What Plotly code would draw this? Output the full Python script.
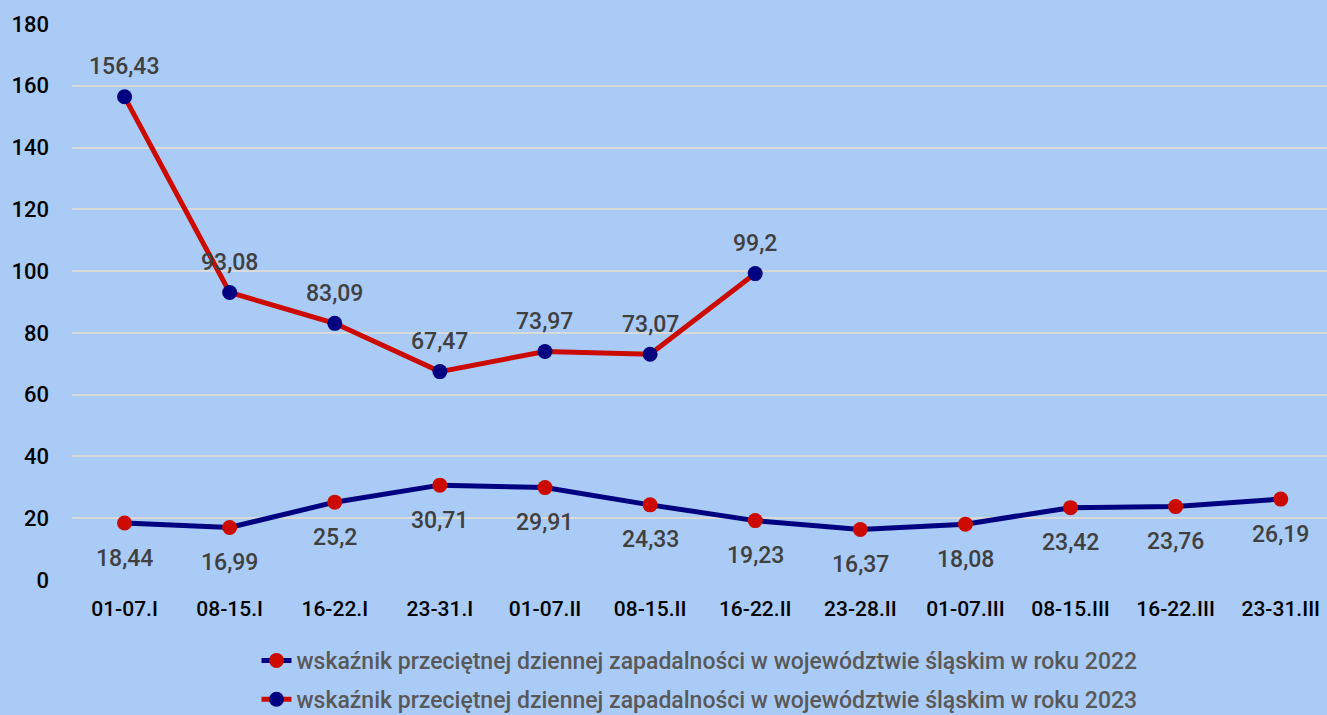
import plotly.graph_objects as go

okresy = ["01-07.I", "08-15.I", "16-22.I", "23-31.I", "01-07.II", "08-15.II",
          "16-22.II", "23-28.II", "01-07.III", "08-15.III", "16-22.III", "23-31.III"]
rok_2022 = [18.44, 16.99, 25.2, 30.71, 29.91, 24.33, 19.23, 16.37, 18.08, 23.42, 23.76, 26.19]
rok_2023 = [156.43, 93.08, 83.09, 67.47, 73.97, 73.07, 99.2]

granat = "#000080"
czerwony = "#CC0A00"
tlo = "#ABCBF7"
font_family = "Roboto"


def etykieta(v):
    return f"{v:g}".replace(".", ",")


fig = go.Figure()
fig.add_trace(go.Scatter(
    x=okresy, y=rok_2022, mode="lines+markers", legendgroup="a",
    name="wskaźnik przeciętnej dziennej zapadalności w województwie śląskim w roku 2022",
    line=dict(color=granat, width=5),
    marker=dict(color=czerwony, size=15),
))
fig.add_trace(go.Scatter(
    x=okresy[:len(rok_2023)], y=rok_2023, mode="lines+markers", legendgroup="b",
    name="wskaźnik przeciętnej dziennej zapadalności w województwie śląskim w roku 2023",
    line=dict(color=czerwony, width=5),
    marker=dict(color=granat, size=15),
))

# etykiety danych: 2022 pod punktami, 2023 nad punktami
for k, v in zip(okresy, rok_2022):
    fig.add_annotation(x=k, y=v, text=etykieta(v), showarrow=False, yshift=-35,
                       font=dict(size=23, color="#404040", family=font_family, weight=500))
for k, v in zip(okresy, rok_2023):
    fig.add_annotation(x=k, y=v, text=etykieta(v), showarrow=False, yshift=30,
                       font=dict(size=23, color="#404040", family=font_family, weight=500))

fig.update_layout(
    width=1327, height=715,
    paper_bgcolor=tlo, plot_bgcolor=tlo,
    margin=dict(l=72, r=0, t=24, b=135, autoexpand=False),
    font=dict(family=font_family, color="black"),
    showlegend=True,
    legend=dict(orientation="v", x=0.5, xanchor="center", y=-0.106, yanchor="top",
                font=dict(size=23, color="#595959", family=font_family, weight=500),
                bgcolor="rgba(0,0,0,0)", tracegroupgap=6),
    xaxis=dict(range=[-0.5, 11.44], showgrid=False, zeroline=False, showline=False,
               ticks="", ticklabelstandoff=14, automargin=False,
               tickfont=dict(size=21, color="black", family=font_family, weight=500)),
    yaxis=dict(range=[0, 180], dtick=20, showgrid=True, gridcolor="#D9D9D9", gridwidth=2,
               zeroline=False, showline=False, ticks="", ticklabelstandoff=22, automargin=False,
               tickfont=dict(size=22, color="black", family=font_family, weight=500)),
)

fig.write_html("out.html", config={"displayModeBar": False},
               post_script="document.body.style.margin='0';document.body.style.padding='0';")
